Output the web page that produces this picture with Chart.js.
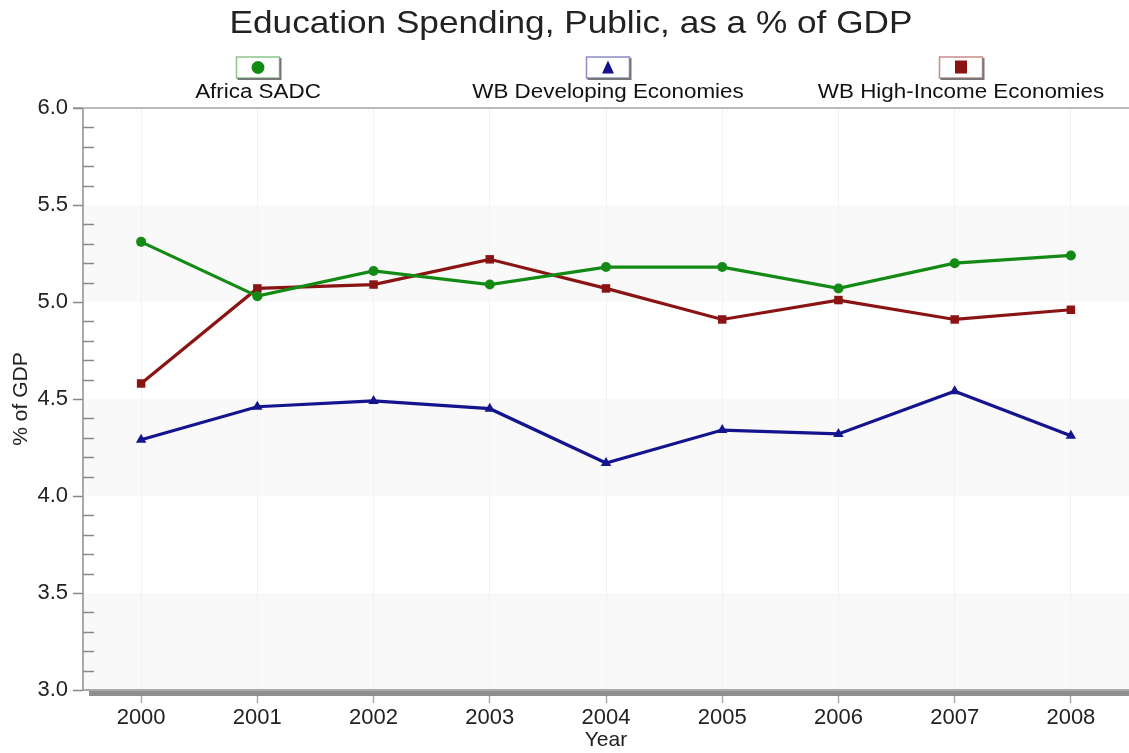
<!DOCTYPE html>
<html lang="en">
<head>
  <meta charset="UTF-8">
  <title>Education Spending, Public, as a % of GDP</title>
  <script src="https://cdn.jsdelivr.net/npm/chart.js"></script>
  <style>
    body { margin: 0; padding: 0; background: #fff; overflow: hidden; }
  </style>
</head>
<body>
  <canvas id="eduChart" width="1129" height="753"></canvas>

  <script>
    // data
    const years = ['2000', '2001', '2002', '2003', '2004', '2005', '2006', '2007', '2008'];
    const africaSadc = [5.31, 5.03, 5.16, 5.09, 5.18, 5.18, 5.07, 5.20, 5.24];
    const wbDeveloping = [4.29, 4.46, 4.49, 4.45, 4.17, 4.34, 4.32, 4.54, 4.31];
    const wbHighIncome = [4.58, 5.07, 5.09, 5.22, 5.07, 4.91, 5.01, 4.91, 4.96];
    const seriesNames = ['Africa SADC', 'WB Developing Economies', 'WB High-Income Economies'];

    const FONT = "'Liberation Sans', Arial, sans-serif";
    const GREEN = '#138a13', BLUE = '#14148e', RED = '#8a1414';

    // text a bit wider than the font, like the original
    function wideText(ctx, text, x, y, sx) {
      ctx.save();
      ctx.translate(x, y);
      ctx.scale(sx, 1);
      ctx.fillText(text, 0, 0);
      ctx.restore();
    }

    // bands, minor ticks, bottom shadow, title and the boxed legend
    const decorPlugin = {
      id: 'decor',
      beforeDraw(chart) {
        const { ctx, chartArea: a, scales: { y } } = chart;
        ctx.save();
        // alternating bands
        for (let v = 3; v < 6; v += 0.5) {
          if (Math.round(v * 2) % 2 === 0) {
            const top = y.getPixelForValue(v + 0.5), bot = y.getPixelForValue(v);
            ctx.fillStyle = '#f9f9f9';
            ctx.fillRect(a.left, top, a.right - a.left, bot - top);
          }
        }
        ctx.restore();
      },
      afterDraw(chart) {
        const { ctx, chartArea: a, scales: { y } } = chart;
        ctx.save();
        // top line
        ctx.strokeStyle = '#bbb';
        ctx.lineWidth = 2;
        ctx.beginPath();
        ctx.moveTo(a.left - 10, a.top);
        ctx.lineTo(a.right, a.top);
        ctx.stroke();
        // major ticks outside, minor ticks inside
        ctx.strokeStyle = '#888';
        ctx.lineWidth = 1.5;
        for (let i = 0; i <= 30; i++) {
          const v = 3 + i * 0.1;
          const py = Math.round(y.getPixelForValue(v)) + 0.5;
          ctx.beginPath();
          if (i % 5 === 0) { ctx.moveTo(a.left - 10, py); ctx.lineTo(a.left, py); }
          else { ctx.moveTo(a.left, py); ctx.lineTo(a.left + 11, py); }
          ctx.stroke();
        }
        // bottom shadow bar
        ctx.fillStyle = '#8f8f8f';
        ctx.fillRect(a.left + 6, a.bottom + 1, a.right - a.left - 6, 5);
        ctx.strokeStyle = '#aaa';
        ctx.lineWidth = 2;
        ctx.beginPath();
        ctx.moveTo(a.left, a.bottom);
        ctx.lineTo(a.right, a.bottom);
        ctx.stroke();

        // title
        ctx.fillStyle = '#222';
        ctx.font = '32px ' + FONT;
        ctx.textAlign = 'center';
        ctx.textBaseline = 'middle';
        wideText(ctx, 'Education Spending, Public, as a % of GDP', 571, 24, 1.1);

        // legend
        const centers = [258, 608, 961];
        chart.data.datasets.forEach((ds, i) => {
          const cx = centers[i];
          const bw = 43, bh = 21, bx = cx - bw / 2, by = 57;
          ctx.fillStyle = '#fff';
          ctx.fillRect(bx, by, bw, bh);
          ctx.strokeStyle = ds.legendEdge;
          ctx.lineWidth = 1.5;
          ctx.strokeRect(bx, by, bw, bh);
          ctx.strokeStyle = '#777';
          ctx.lineWidth = 2;
          ctx.beginPath();
          ctx.moveTo(bx + 1, by + bh + 1);
          ctx.lineTo(bx + bw + 1, by + bh + 1);
          ctx.lineTo(bx + bw + 1, by + 1);
          ctx.stroke();
          ctx.fillStyle = ds.borderColor;
          const my = by + bh / 2;
          ctx.beginPath();
          if (ds.pointStyle === 'circle') {
            ctx.arc(cx, my, 6.5, 0, Math.PI * 2);
          } else if (ds.pointStyle === 'triangle') {
            ctx.moveTo(cx, my - 7); ctx.lineTo(cx + 6, my + 6); ctx.lineTo(cx - 6, my + 6); ctx.closePath();
          } else {
            ctx.rect(cx - 6, my - 7, 12, 13);
          }
          ctx.fill();
          ctx.fillStyle = '#111';
          ctx.font = '20px ' + FONT;
          wideText(ctx, ds.label, cx, 92, 1.12);
        });
        ctx.restore();
      }
    };

    const ctx = document.getElementById('eduChart').getContext('2d');
    new Chart(ctx, {
      type: 'line',
      data: {
        labels: years,
        datasets: [
          { label: seriesNames[0], data: africaSadc, borderColor: GREEN, backgroundColor: GREEN,
            pointStyle: 'circle', pointRadius: 5, legendEdge: '#8cc48c' },
          { label: seriesNames[1], data: wbDeveloping, borderColor: BLUE, backgroundColor: BLUE,
            pointStyle: 'triangle', pointRadius: 6, legendEdge: '#8c8cc8' },
          { label: seriesNames[2], data: wbHighIncome, borderColor: RED, backgroundColor: RED,
            pointStyle: 'rect', pointRadius: 6, legendEdge: '#c88c8c' }
        ]
      },
      options: {
        responsive: false,
        animation: false,
        elements: { line: { borderWidth: 3.2, tension: 0 }, point: { borderWidth: 0 } },
        layout: { autoPadding: false, padding: { top: 108, right: 0, left: 0, bottom: 0 } },
        plugins: {
          legend: { display: false },
          title: { display: false },
          tooltip: { enabled: false }
        },
        scales: {
          x: {
            offset: true,
            grid: { color: '#f2f2f2', tickColor: '#aaa', tickLength: 13, tickWidth: 1.5, offset: false },
            border: { display: false },
            ticks: { color: '#222', font: { family: FONT, size: 22 }, padding: 2, maxRotation: 0, autoSkip: false },
            title: { display: true, text: 'Year', color: '#222', font: { family: FONT, size: 21 }, padding: { top: 0, bottom: 0 } },
            afterFit(scale) { scale.height = 63; scale.paddingLeft = 0; scale.paddingRight = 0; }
          },
          y: {
            min: 3, max: 6,
            grid: { display: false, drawTicks: false },
            border: { display: true, color: '#aaa', width: 2 },
            ticks: { stepSize: 0.5, color: '#222', font: { family: FONT, size: 22 }, padding: 15,
              callback: v => Number(v).toFixed(1) },
            title: { display: true, text: '% of GDP', color: '#222', font: { family: FONT, size: 21 }, padding: { top: 9, bottom: 0 } },
            afterFit(scale) { scale.width = 83; scale.paddingTop = 0; scale.paddingBottom = 0; }
          }
        }
      },
      plugins: [decorPlugin]
    });
  </script>
</body>
</html>
